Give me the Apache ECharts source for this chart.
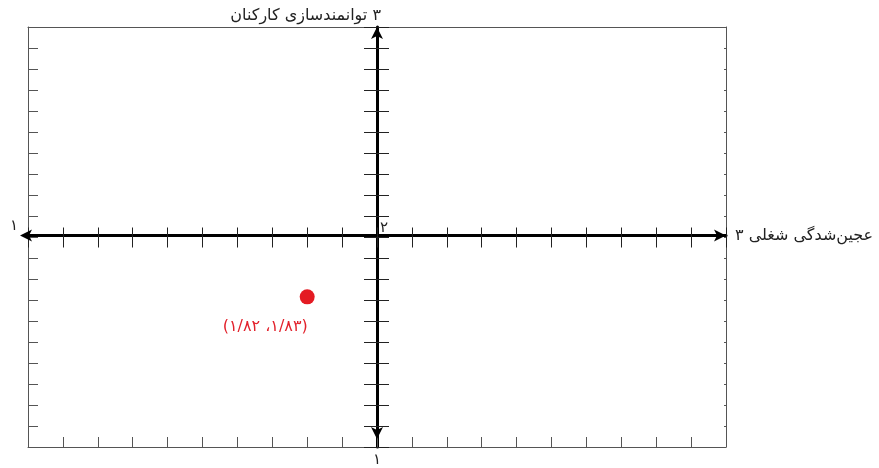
<!DOCTYPE html>
<html>
<head>
<meta charset="utf-8">
<title>ماتریس عجین‌شدگی شغلی و توانمندسازی</title>
<script src="https://cdn.jsdelivr.net/npm/echarts/dist/echarts.min.js"></script>
<style>
    html, body { margin: 0; padding: 0; background: #fff; }
    #container { width: 879px; height: 468px; }
</style>
</head>
<body>
<div id="container"></div>
<script type="text/javascript">
    // داده‌ها
    var xRange = [1, 3];          // عجین‌شدگی شغلی
    var yRange = [1, 3];          // توانمندسازی کارکنان
    var tickStep = 0.1;
    var center = [2, 2];
    var point = [1.8, 1.715];
    var pointLabel = '(۱/۸۲ ،۱/۸۳)';
    var xName = 'عجین‌شدگی شغلی ۳';
    var yName = '\u200F۳ توانمندسازی کارکنان';
    var xStartLabel = '۱';
    var yStartLabel = '۱';
    var centerLabel = '۲';

    var font = "'DejaVu Sans', 'Noto Sans', sans-serif";
    var frameColor = '#555';
    var gridBox = { left: 28, top: 27, width: 698, height: 423 };

    // فاصله محورهای وسط از لبه‌ها
    var midX = gridBox.width * (center[0] - xRange[0]) / (xRange[1] - xRange[0]);
    var midY = gridBox.height * (yRange[1] - center[1]) / (yRange[1] - yRange[0]);

    function baseX(extra) {
        var a = {
            type: 'value', min: xRange[0], max: xRange[1], interval: tickStep,
            splitLine: { show: false },
            axisLabel: { show: false },
            axisTick: { show: false },
            axisLine: { show: false }
        };
        for (var k in extra) a[k] = extra[k];
        return a;
    }
    function baseY(extra) {
        var a = {
            type: 'value', min: yRange[0], max: yRange[1], interval: tickStep,
            splitLine: { show: false },
            axisLabel: { show: false },
            axisTick: { show: false },
            axisLine: { show: false }
        };
        for (var k in extra) a[k] = extra[k];
        return a;
    }

    var myChart = echarts.init(document.getElementById('container'));
    var option = {
        animation: false,
        textStyle: { fontFamily: font },
        grid: gridBox,
        xAxis: [
            // قاب پایین
            baseX({
                position: 'bottom',
                axisLine: { show: true, lineStyle: { color: frameColor, width: 1 } },
                axisTick: { show: true, inside: true, length: 10, lineStyle: { color: frameColor } }
            }),
            // قاب بالا
            baseX({
                position: 'top',
                axisLine: { show: true, lineStyle: { color: frameColor, width: 1 } }
            }),
            // محور افقی وسط (تیک بالا)
            baseX({
                position: 'bottom',
                offset: -(gridBox.height - midY),
                axisLine: {
                    show: true, symbol: ['arrow', 'arrow'], symbolSize: [9, 12], symbolOffset: [-8, 0],
                    lineStyle: { color: '#000', width: 3 }
                },
                axisTick: { show: true, inside: true, length: 8, lineStyle: { color: '#222', width: 1 } },
                axisLabel: {
                    show: true, inside: true, margin: 0, align: 'left', padding: [0, 0, 0, 3],
                    fontSize: 15, color: '#222', fontFamily: font,
                    formatter: function (v) { return Math.abs(v - center[0]) < 1e-6 ? centerLabel : ''; }
                },
                name: xName, nameLocation: 'end', nameGap: 9,
                nameTextStyle: { fontSize: 16, color: '#222', fontFamily: font, verticalAlign: 'middle', padding: [0, 0, 12, 0] }
            }),
            // محور افقی وسط (تیک پایین)
            baseX({
                position: 'bottom',
                offset: -(gridBox.height - midY),
                axisTick: { show: true, inside: false, length: 12, lineStyle: { color: '#222', width: 1 } },
                name: xStartLabel, nameLocation: 'start', nameGap: 10,
                nameTextStyle: { fontSize: 15, color: '#222', fontFamily: font, verticalAlign: 'bottom', padding: [0, 0, 2, 0] }
            })
        ],
        yAxis: [
            // قاب چپ
            baseY({
                position: 'left',
                axisLine: { show: true, lineStyle: { color: frameColor, width: 1 } },
                axisTick: { show: true, inside: true, length: 10, lineStyle: { color: frameColor } }
            }),
            // قاب راست
            baseY({
                position: 'right',
                axisLine: { show: true, lineStyle: { color: frameColor, width: 1 } },
                axisTick: { show: true, inside: true, length: 2, lineStyle: { color: frameColor } }
            }),
            // محور عمودی وسط (تیک راست)
            baseY({
                position: 'left',
                offset: -midX,
                axisLine: {
                    show: true, symbol: ['arrow', 'arrow'], symbolSize: [9, 12], symbolOffset: [8, 0],
                    lineStyle: { color: '#000', width: 3 }
                },
                axisTick: { show: true, inside: true, length: 12, lineStyle: { color: '#222', width: 1 } },
                name: yName, nameLocation: 'end', nameGap: 3,
                nameTextStyle: { fontSize: 16, color: '#222', fontFamily: font, align: 'right', padding: [0, -4, 0, 0] }
            }),
            // محور عمودی وسط (تیک چپ)
            baseY({
                position: 'left',
                offset: -midX,
                axisTick: { show: true, inside: false, length: 13, lineStyle: { color: '#222', width: 1 } },
                name: yStartLabel, nameLocation: 'start', nameGap: 6,
                nameTextStyle: { fontSize: 15, color: '#222', fontFamily: font, verticalAlign: 'top' }
            })
        ],
        series: [{
            type: 'scatter',
            xAxisIndex: 0,
            yAxisIndex: 0,
            symbolSize: 15,
            itemStyle: { color: '#e41b23', opacity: 1 },
            data: [point],
            label: {
                show: true,
                position: 'bottom',
                distance: 5,
                offset: [-42, 9],
                formatter: pointLabel,
                color: '#e2222c',
                fontSize: 16,
                fontFamily: font
            }
        }]
    };
    myChart.setOption(option);
</script>
</body>
</html>
